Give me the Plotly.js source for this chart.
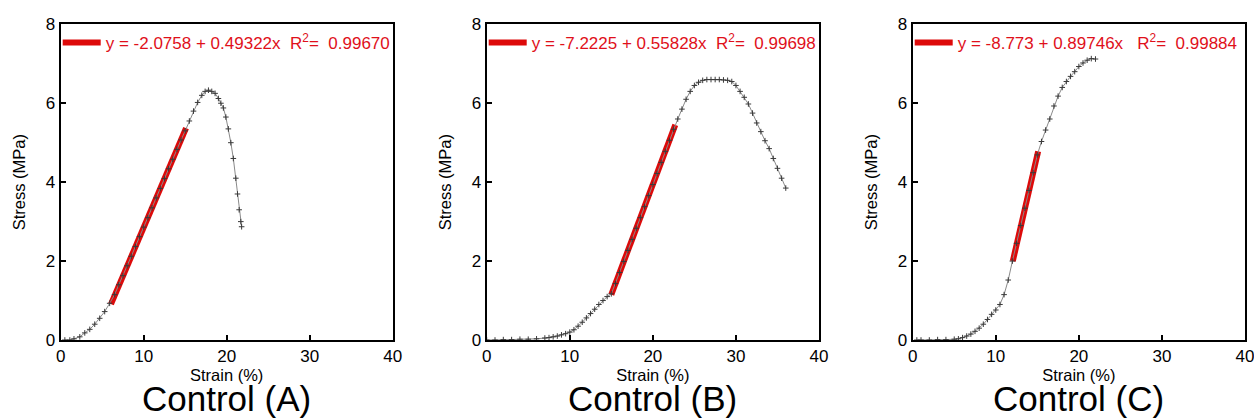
<!DOCTYPE html>
<html>
<head>
<meta charset="utf-8">
<script src="https://cdn.plot.ly/plotly-3.0.1.min.js"></script>
<style>html,body{margin:0;padding:0;background:#fff;}#chart{width:1254px;height:418px;}</style>
</head>
<body>
<div id="chart"></div>
<script>
// ---- Data ----
const NB = "\u00a0";
const panelTitles = ["Control (A)", "Control (B)", "Control (C)"];
const fitLabels = [
  "y = -2.0758 + 0.49322x" + NB + NB + "R<sup>2</sup>=" + NB + NB + "0.99670",
  "y = -7.2225 + 0.55828x" + NB + NB + "R<sup>2</sup>=" + NB + NB + "0.99698",
  "y = -8.773 + 0.89746x" + NB + NB + NB + "R<sup>2</sup>=" + NB + NB + "0.99884"
];

const strainA = [0.5,1.1,1.6,2.3,2.9,3.5,4.1,4.7,5.3,5.9,6.5,7,7.5,8,8.5,9,9.5,10,10.5,11,11.5,12,12.5,13,13.5,14,14.5,15,15.5,16,16.5,17,17.4,17.8,18.2,18.6,19,19.3,19.6,19.9,20.2,20.5,20.8,21.1,21.3,21.5,21.7,21.8];
const stressA = [0,0,0.03,0.08,0.18,0.27,0.4,0.55,0.72,0.93,1.15,1.4,1.63,1.88,2.12,2.37,2.62,2.86,3.1,3.35,3.6,3.84,4.09,4.34,4.58,4.83,5.07,5.3,5.55,5.8,6.02,6.2,6.3,6.33,6.3,6.25,6.12,6.0,5.88,5.65,5.35,5.0,4.6,4.1,3.7,3.3,3.0,2.87];
const fitStrainA = [6.06, 15.1];
const fitStressA = [0.91, 5.37];

const strainB = [0,1,2,3,4,5,6,7,7.5,8,8.5,9,9.5,10,10.5,11,11.5,12,12.5,13,13.5,14,14.5,15,15.5,16,16.5,17,17.5,18,18.5,19,19.5,20,20.5,21,21.5,22,22.5,23,23.5,24,24.5,25,25.5,26,26.5,27,27.5,28,28.5,29,29.5,30,30.5,31,31.5,32,32.5,33,33.5,34,34.5,35,35.5,36];
const stressB = [0,0,0.01,0.01,0.02,0.02,0.03,0.05,0.06,0.08,0.1,0.13,0.16,0.2,0.26,0.35,0.45,0.56,0.67,0.78,0.9,1.0,1.1,1.17,1.43,1.71,1.99,2.27,2.55,2.83,3.1,3.38,3.66,3.94,4.22,4.5,4.78,5.06,5.34,5.6,5.85,6.1,6.3,6.45,6.53,6.58,6.6,6.6,6.6,6.6,6.59,6.58,6.55,6.45,6.3,6.15,5.98,5.75,5.5,5.28,5.05,4.85,4.6,4.35,4.1,3.85];
const fitStrainB = [15.0, 22.7];
const fitStressB = [1.15, 5.45];

const strainC = [0.5,1,2,3,4,5,5.5,6,6.5,7,7.5,8,8.5,9,9.5,10,10.5,11,11.5,12,12.5,13,13.5,14,14.5,15,15.5,16,16.5,17,17.5,18,18.5,19,19.5,20,20.5,21,21.5,22];
const stressC = [0,0,0,0.01,0.01,0.02,0.03,0.06,0.1,0.15,0.22,0.3,0.4,0.52,0.65,0.76,0.9,1.15,1.52,2.0,2.45,2.9,3.34,3.79,4.24,4.69,5.03,5.32,5.6,5.93,6.18,6.4,6.55,6.68,6.8,6.93,7.02,7.09,7.13,7.12];
const fitStrainC = [12.05, 15.1];
const fitStressC = [2.0, 4.78];

const xTickVals = [0,10,20,30,40];
const yTickVals = [0,2,4,6,8];

// ---- Build ----
const FONT = "Liberation Sans, Arial, sans-serif";
const RED = "#e0101a";
const FITRED = "#dd0a0a";
const strains = [strainA, strainB, strainC];
const stresses = [stressA, stressB, stressC];
const fitXs = [fitStrainA, fitStrainB, fitStrainC];
const fitYs = [fitStressA, fitStressB, fitStressC];

const W = 1254, H = 418;
const xDomPx = [[60.7, 392.7], [486.7, 819], [912.7, 1245]];
const yDom = [1 - 340 / H, 1 - 24.3 / H];

const traces = [];
const layout = {
  width: W, height: H,
  margin: {l: 0, r: 0, t: 0, b: 0},
  paper_bgcolor: "#fff", plot_bgcolor: "#fff",
  font: {family: FONT, color: "#000"},
  showlegend: true,
  annotations: []
};

for (let i = 0; i < 3; i++) {
  const sfx = i === 0 ? "" : String(i + 1);
  const xa = "x" + sfx, ya = "y" + sfx;
  const lg = "legend" + sfx;
  traces.push({
    x: fitXs[i], y: fitYs[i], xaxis: xa, yaxis: ya,
    mode: "lines", line: {color: FITRED, width: 6},
    name: fitLabels[i], legend: lg, showlegend: true, hoverinfo: "skip"
  });
  traces.push({
    x: strains[i], y: stresses[i], xaxis: xa, yaxis: ya,
    mode: "lines+markers",
    line: {color: "#8a8a8a", width: 1},
    marker: {symbol: "cross-thin", size: 4, line: {color: "#3a3a3a", width: 1}},
    showlegend: false, hoverinfo: "skip"
  });
  const axCommon = {
    showgrid: false, zeroline: false, showline: true, mirror: true,
    linecolor: "#000", linewidth: 2,
    ticks: "inside", ticklen: 5, tickwidth: 2, tickcolor: "#000",
    tickfont: {family: FONT, size: 17, color: "#000"},
    ticklabeloverflow: "allow",
    fixedrange: true
  };
  layout["xaxis" + sfx] = Object.assign({}, axCommon, {
    domain: [xDomPx[i][0] / W, xDomPx[i][1] / W],
    anchor: ya, range: [0, 40], tickvals: xTickVals,
    title: {text: "Strain (%)", font: {family: FONT, size: 16.5, color: "#000"}, standoff: 0}
  });
  layout["yaxis" + sfx] = Object.assign({}, axCommon, {
    domain: yDom, anchor: xa, range: [0, 8], tickvals: yTickVals,
    title: {text: "Stress (MPa)", font: {family: FONT, size: 16.5, color: "#000"}, standoff: 16}
  });
  layout[lg] = {
    x: (xDomPx[i][0] - 3) / W, y: 1 - 43 / H,
    xanchor: "left", yanchor: "middle",
    bgcolor: "rgba(0,0,0,0)", borderwidth: 0,
    font: {family: FONT, size: 17, color: RED},
    itemwidth: 38, tracegroupgap: 0
  };
  layout.annotations.push({
    xref: "paper", yref: "paper",
    x: (xDomPx[i][0] + xDomPx[i][1]) / 2 / W, y: 0,
    xanchor: "center", yanchor: "bottom", yshift: -2,
    text: panelTitles[i], showarrow: false,
    font: {family: FONT, size: 35, color: "#000"}
  });
}

Plotly.newPlot("chart", traces, layout, {staticPlot: true, displayModeBar: false});
</script>
</body>
</html>
